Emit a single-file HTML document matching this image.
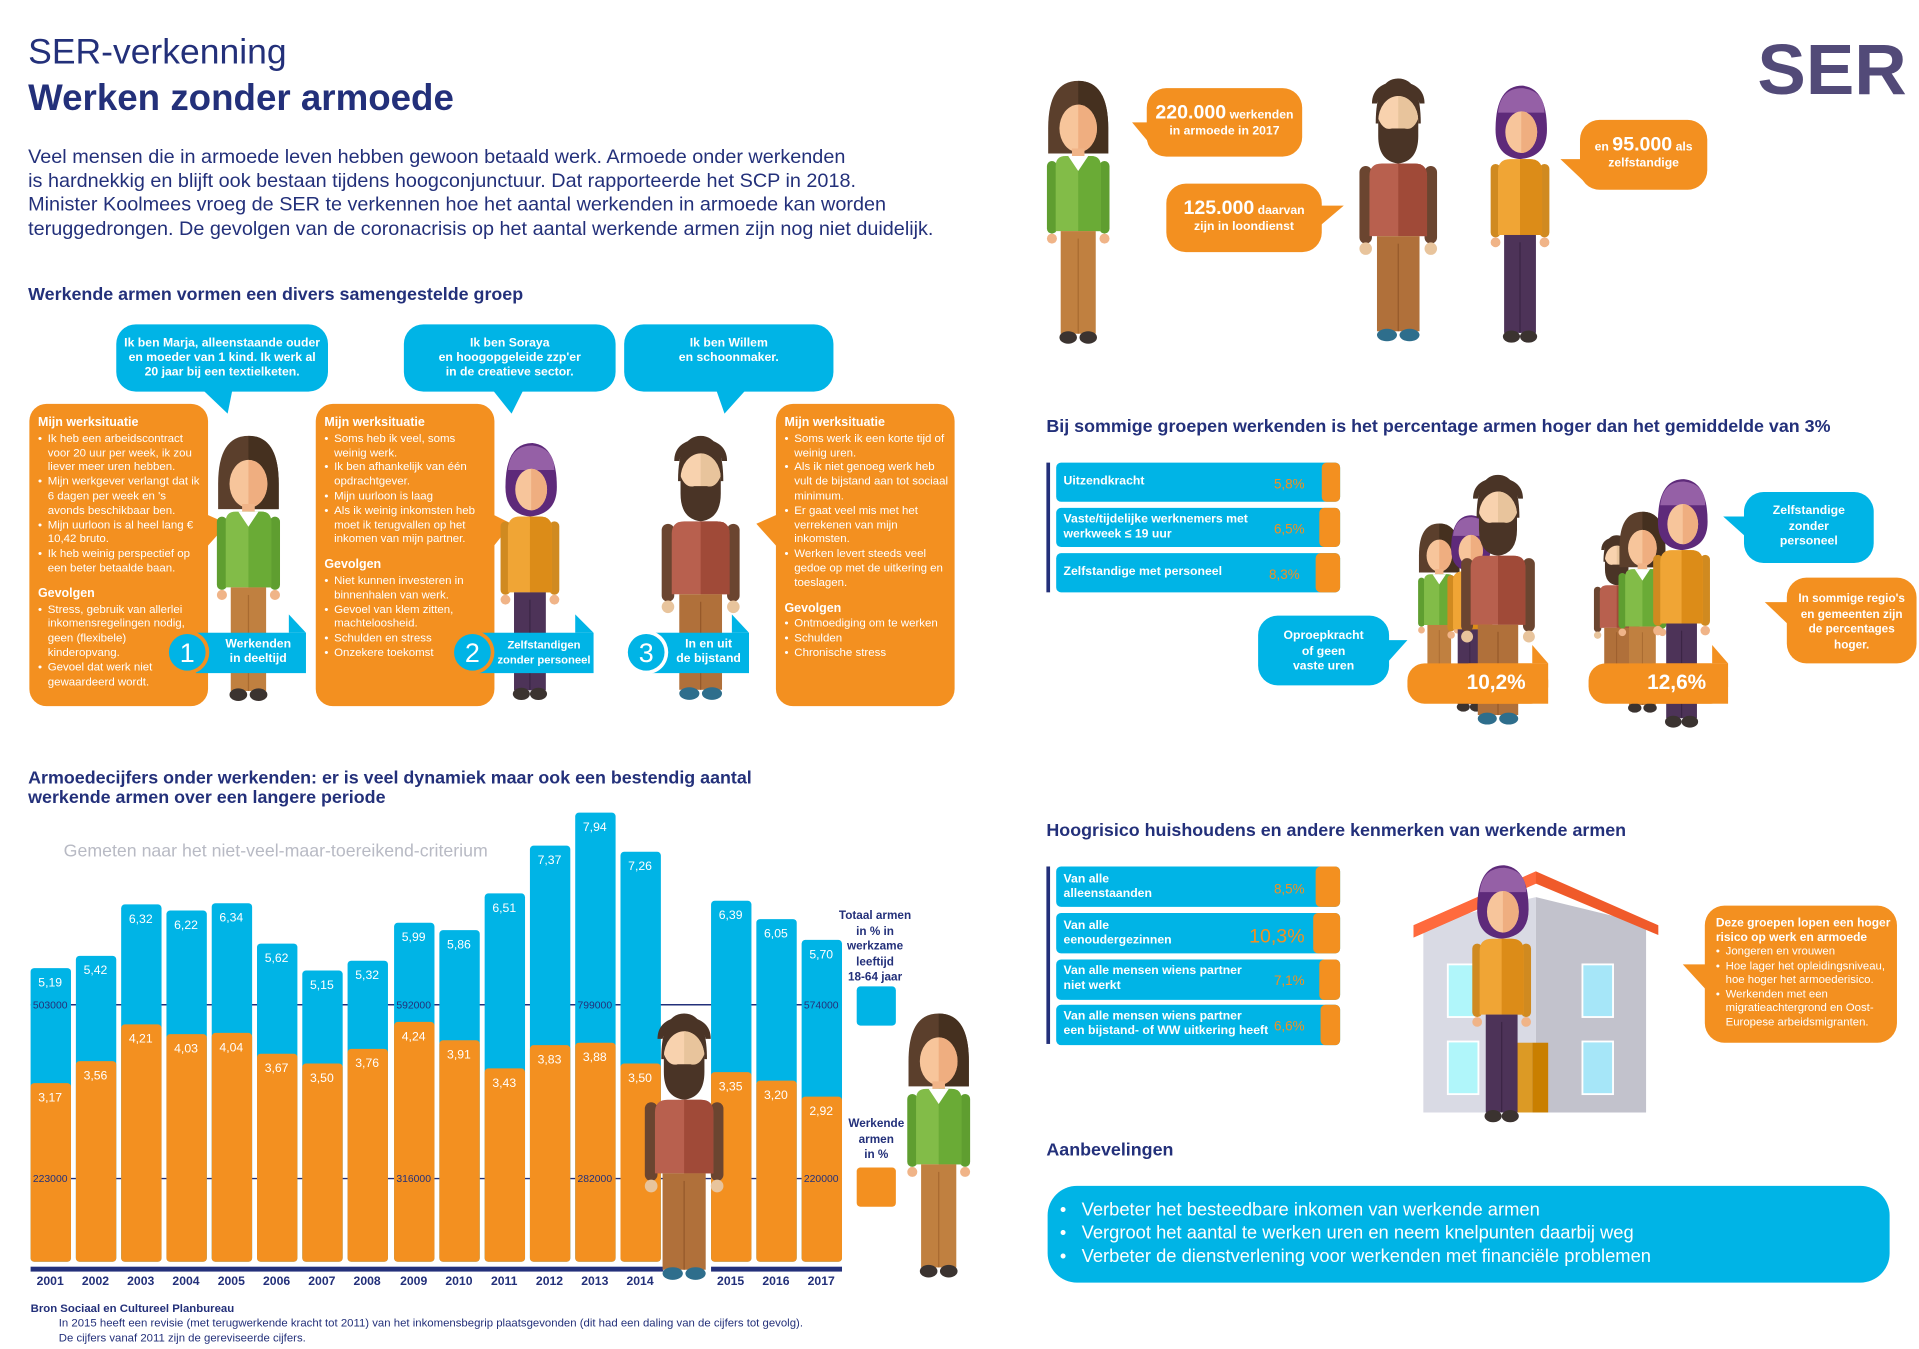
<!DOCTYPE html>
<html><head><meta charset="utf-8">
<style>
*{margin:0;padding:0;box-sizing:border-box}
html,body{width:1919px;height:1348px;overflow:hidden;background:#fff}
#s{position:absolute;left:0;top:0;width:1568px;height:1102px;transform:scale(1.22385);transform-origin:0 0;font-family:"Liberation Sans Narrow","Liberation Sans",sans-serif;color:#23307a}
.a{position:absolute}
.h{font-weight:bold;font-size:14.6px;color:#23307a;white-space:nowrap}
.ob{color:#fff;font-size:9.4px;line-height:11.8px}
.ob b{display:block;font-size:10.2px}
.ob ul{list-style:none}
.ob li{padding-left:8px;position:relative}
.ob li:before{content:"•";position:absolute;left:0}
.c{text-align:center;color:#fff;font-weight:bold}
svg{position:absolute;left:0;top:0}
</style></head><body><div id="s">
<svg width="1568" height="1102" viewBox="0 0 1568 1102">
<defs>
<symbol id="w" viewBox="0 0 60 220">
<path d="M6 42 Q6 4 30 4 Q54 4 54 42 L54 62 L6 62Z" fill="#5b3f2c"/>
<path d="M30 4 Q54 4 54 42 L54 62 L30 62Z" fill="#45301f"/>
<ellipse cx="30" cy="42" rx="15" ry="19" fill="#f7c59b"/>
<path d="M30 23 A15 19 0 0 1 30 61Z" fill="#efae80"/>
<rect x="25" y="58" width="10" height="8" fill="#f0b488"/>
<rect x="5" y="68" width="8" height="58" rx="4" fill="#5f9e30"/>
<rect x="47" y="68" width="8" height="58" rx="4" fill="#5f9e30"/>
<circle cx="9" cy="130" r="4" fill="#f0b488"/><circle cx="51" cy="130" r="4" fill="#f0b488"/>
<path d="M12 72 Q12 64 20 64 L40 64 Q48 64 48 72 L48 124 L12 124Z" fill="#82bc48"/>
<path d="M30 64 L40 64 Q48 64 48 72 L48 124 L30 124Z" fill="#6aab36"/>
<path d="M22 64 L30 76 L38 64Z" fill="#fff"/>
<rect x="16" y="124" width="28" height="82" fill="#c08040"/>
<rect x="29.5" y="130" width="1" height="76" fill="#a86a30"/>
<ellipse cx="22" cy="209" rx="7" ry="5" fill="#3b3330"/><ellipse cx="38" cy="209" rx="7" ry="5" fill="#3b3330"/>
</symbol>
<symbol id="m" viewBox="0 0 70 220">
<path d="M17 40 Q17 4 35 4 Q53 4 53 40Z" fill="#4a3426"/>
<ellipse cx="35" cy="38" rx="16" ry="20" fill="#f8d2ae"/>
<path d="M35 18 A16 20 0 0 1 35 58Z" fill="#e8c49c"/>
<path d="M19 36 L19 50 Q19 70 35 72 Q51 70 51 50 L51 36 Q47 46 40 44 L30 44 Q23 46 19 36Z" fill="#4a3426"/>
<path d="M14 24 Q14 8 35 6 Q56 8 56 24 L52 24 Q50 14 35 14 Q20 14 18 24Z" fill="#4a3426"/>
<rect x="4" y="74" width="10" height="62" rx="5" fill="#6b4530"/>
<rect x="56" y="74" width="10" height="62" rx="5" fill="#6b4530"/>
<circle cx="9" cy="140" r="5" fill="#e8c49c"/><circle cx="61" cy="140" r="5" fill="#e8c49c"/>
<path d="M12 82 Q12 72 22 72 L48 72 Q58 72 58 82 L58 130 L12 130Z" fill="#b8604e"/>
<path d="M35 72 L48 72 Q58 72 58 82 L58 130 L35 130Z" fill="#a04a38"/>
<rect x="18" y="130" width="34" height="76" fill="#b0703a"/>
<rect x="34.5" y="136" width="1" height="70" fill="#95592a"/>
<ellipse cx="26" cy="209" rx="8" ry="5" fill="#2e6e8c"/><ellipse cx="44" cy="209" rx="8" ry="5" fill="#2e6e8c"/>
</symbol>
<symbol id="hj" viewBox="0 0 60 220">
<path d="M10 40 Q10 4 32 4 Q52 6 52 40 Q52 62 30 64 Q10 62 10 40Z" fill="#5e2a7a"/>
<path d="M12 26 Q14 6 32 6 Q50 8 50 26Z" fill="#9560a6"/>
<ellipse cx="31" cy="42" rx="13" ry="17" fill="#f7c59b"/>
<path d="M31 25 A13 17 0 0 1 31 59Z" fill="#efae80"/>
<rect x="6" y="68" width="8" height="60" rx="4" fill="#d08a20"/>
<rect x="46" y="68" width="8" height="60" rx="4" fill="#d08a20"/>
<circle cx="10" cy="132" r="4" fill="#f0b488"/><circle cx="50" cy="132" r="4" fill="#f0b488"/>
<path d="M12 74 Q12 64 22 64 L38 64 Q48 64 48 74 L48 126 L12 126Z" fill="#f0a535"/>
<path d="M30 64 L38 64 Q48 64 48 74 L48 126 L30 126Z" fill="#dc8c18"/>
<rect x="17" y="126" width="26" height="80" fill="#4d3358"/>
<rect x="29.5" y="132" width="1" height="74" fill="#3b2545"/>
<ellipse cx="23" cy="209" rx="7" ry="5" fill="#3b3330"/><ellipse cx="37" cy="209" rx="7" ry="5" fill="#3b3330"/>
</symbol>
</defs>

<text x="1436" y="77" font-family="Liberation Sans,sans-serif" font-weight="bold" font-size="58" fill="#524a78" textLength="122" lengthAdjust="spacingAndGlyphs">SER</text>

<use href="#w" x="850" y="62" width="62" height="225"/>
<use href="#m" x="1105" y="60" width="75" height="225"/>
<use href="#hj" x="1212" y="66" width="60" height="220"/>
<rect x="937" y="72" width="127" height="56" rx="16" fill="#f39020"/>
<polygon points="925,100 940,100 940,118" fill="#f39020"/>
<rect x="953" y="150" width="127" height="56" rx="16" fill="#f39020"/>
<polygon points="1078,168 1098,168 1078,185" fill="#f39020"/>
<rect x="1291" y="98" width="104" height="57" rx="16" fill="#f39020"/>
<polygon points="1275,130 1294,130 1294,148" fill="#f39020"/>

<rect x="95" y="265" width="173" height="55" rx="16" fill="#00b4e6"/>
<polygon points="165,318 190,318 186,338" fill="#00b4e6"/>
<rect x="330" y="265" width="173" height="55" rx="16" fill="#00b4e6"/>
<polygon points="402,318 428,318 418,338" fill="#00b4e6"/>
<rect x="510" y="265" width="171" height="55" rx="16" fill="#00b4e6"/>
<polygon points="585,318 610,318 592,338" fill="#00b4e6"/>
<rect x="24" y="330" width="146" height="247" rx="14" fill="#f39020"/>
<polygon points="168,420 186,428 168,448" fill="#f39020"/>
<rect x="258" y="330" width="146" height="247" rx="14" fill="#f39020"/>
<polygon points="402,420 418,428 402,448" fill="#f39020"/>
<rect x="634" y="330" width="146" height="247" rx="14" fill="#f39020"/>
<polygon points="636,420 618,428 636,448" fill="#f39020"/>
<use href="#w" x="172" y="352" width="62" height="227"/>
<use href="#hj" x="403" y="358" width="60" height="220"/>
<use href="#m" x="535" y="352" width="75" height="226"/>
<rect x="160" y="517" width="90" height="33" fill="#00b4e6"/><polygon points="236,502 250,517 236,517" fill="#00b4e6"/>
<circle cx="153" cy="533" r="18" fill="#f39020"/><circle cx="153" cy="533" r="15" fill="#00b4e6"/>
<rect x="385" y="517" width="100" height="33" fill="#00b4e6"/><polygon points="470,502 485,517 470,517" fill="#00b4e6"/>
<circle cx="386" cy="533" r="18" fill="#f39020"/><circle cx="386" cy="533" r="15" fill="#00b4e6"/>
<rect x="525" y="517" width="87" height="33" fill="#00b4e6"/><polygon points="598,502 612,517 598,517" fill="#00b4e6"/>
<circle cx="528" cy="533" r="18" fill="#fff"/><circle cx="528" cy="533" r="15" fill="#00b4e6"/>
<g font-size="22" fill="#fff" text-anchor="middle"><text x="153" y="541">1</text><text x="386" y="541">2</text><text x="528" y="541">3</text></g>

<line x1="25" y1="821" x2="688" y2="821" stroke="#23307a" stroke-width="1.2"/>
<line x1="25" y1="963" x2="688" y2="963" stroke="#23307a" stroke-width="1.2"/>
<g fill="#00b4e6">
<rect x="25" y="791" width="33" height="240" rx="3"/><rect x="62" y="781" width="33" height="250" rx="3"/><rect x="99" y="739" width="33" height="292" rx="3"/><rect x="136" y="744" width="33" height="287" rx="3"/><rect x="173" y="738" width="33" height="293" rx="3"/><rect x="210" y="771" width="33" height="260" rx="3"/><rect x="247" y="793" width="33" height="238" rx="3"/><rect x="284" y="785" width="33" height="246" rx="3"/><rect x="322" y="754" width="33" height="277" rx="3"/><rect x="359" y="760" width="33" height="271" rx="3"/><rect x="396" y="730" width="33" height="301" rx="3"/><rect x="433" y="691" width="33" height="340" rx="3"/><rect x="470" y="664" width="33" height="367" rx="3"/><rect x="507" y="696" width="33" height="335" rx="3"/><rect x="581" y="736" width="33" height="295" rx="3"/><rect x="618" y="751" width="33" height="280" rx="3"/><rect x="655" y="768" width="33" height="263" rx="3"/>
</g>
<g fill="#f39020">
<rect x="25" y="885" width="33" height="146" rx="3"/><rect x="62" y="867" width="33" height="164" rx="3"/><rect x="99" y="837" width="33" height="194" rx="3"/><rect x="136" y="845" width="33" height="186" rx="3"/><rect x="173" y="844" width="33" height="187" rx="3"/><rect x="210" y="861" width="33" height="170" rx="3"/><rect x="247" y="869" width="33" height="162" rx="3"/><rect x="284" y="857" width="33" height="174" rx="3"/><rect x="322" y="835" width="33" height="196" rx="3"/><rect x="359" y="850" width="33" height="181" rx="3"/><rect x="396" y="873" width="33" height="158" rx="3"/><rect x="433" y="854" width="33" height="177" rx="3"/><rect x="470" y="852" width="33" height="179" rx="3"/><rect x="507" y="869" width="33" height="162" rx="3"/><rect x="581" y="876" width="33" height="155" rx="3"/><rect x="618" y="883" width="33" height="148" rx="3"/><rect x="655" y="896" width="33" height="135" rx="3"/>
</g>
<rect x="25" y="1035" width="517" height="4" fill="#23307a"/>
<rect x="581" y="1035" width="107" height="4" fill="#23307a"/>
<g font-size="10" fill="#fff" text-anchor="middle">
<text x="41" y="806">5,19</text><text x="78" y="796">5,42</text><text x="115" y="754">6,32</text><text x="152" y="759">6,22</text><text x="189" y="753">6,34</text><text x="226" y="786">5,62</text><text x="263" y="808">5,15</text><text x="300" y="800">5,32</text><text x="338" y="769">5,99</text><text x="375" y="775">5,86</text><text x="412" y="745">6,51</text><text x="449" y="706">7,37</text><text x="486" y="679">7,94</text><text x="523" y="711">7,26</text><text x="597" y="751">6,39</text><text x="634" y="766">6,05</text><text x="671" y="783">5,70</text>
<text x="41" y="900">3,17</text><text x="78" y="882">3,56</text><text x="115" y="852">4,21</text><text x="152" y="860">4,03</text><text x="189" y="859">4,04</text><text x="226" y="876">3,67</text><text x="263" y="884">3,50</text><text x="300" y="872">3,76</text><text x="338" y="850">4,24</text><text x="375" y="865">3,91</text><text x="412" y="888">3,43</text><text x="449" y="869">3,83</text><text x="486" y="867">3,88</text><text x="523" y="884">3,50</text><text x="597" y="891">3,35</text><text x="634" y="898">3,20</text><text x="671" y="911">2,92</text>
</g>
<g font-size="8.5" fill="#23307a" text-anchor="middle">
<text x="41" y="824">503000</text><text x="338" y="824">592000</text><text x="486" y="824">799000</text><text x="671" y="824">574000</text>
<text x="41" y="966">223000</text><text x="338" y="966">316000</text><text x="486" y="966">282000</text><text x="671" y="966">220000</text>
</g>
<g font-size="10" fill="#23307a" text-anchor="middle" font-weight="bold">
<text x="41" y="1050">2001</text><text x="78" y="1050">2002</text><text x="115" y="1050">2003</text><text x="152" y="1050">2004</text><text x="189" y="1050">2005</text><text x="226" y="1050">2006</text><text x="263" y="1050">2007</text><text x="300" y="1050">2008</text><text x="338" y="1050">2009</text><text x="375" y="1050">2010</text><text x="412" y="1050">2011</text><text x="449" y="1050">2012</text><text x="486" y="1050">2013</text><text x="523" y="1050">2014</text><text x="597" y="1050">2015</text><text x="634" y="1050">2016</text><text x="671" y="1050">2017</text>
</g>
<rect x="700" y="806" width="32" height="32" rx="3" fill="#00b4e6"/>
<rect x="700" y="954" width="32" height="32" rx="3" fill="#f39020"/>
<use href="#m" x="522" y="824" width="74" height="228"/>
<use href="#w" x="736" y="824" width="62" height="226"/>

<rect x="855" y="378" width="3" height="106" fill="#23307a"/>
<rect x="863" y="378" width="232" height="32" rx="4" fill="#00b4e6"/><rect x="1080" y="378" width="15" height="32" rx="4" fill="#f39020"/>
<rect x="863" y="415" width="232" height="32" rx="4" fill="#00b4e6"/><rect x="1078" y="415" width="17" height="32" rx="4" fill="#f39020"/>
<rect x="863" y="452" width="232" height="32" rx="4" fill="#00b4e6"/><rect x="1075" y="452" width="20" height="32" rx="4" fill="#f39020"/>
<g font-size="11" fill="#f39020" text-anchor="end"><text x="1066" y="399">5,8%</text><text x="1066" y="436">6,5%</text><text x="1062" y="473">8,3%</text></g>
<use href="#w" x="1155" y="425" width="42" height="152"/>
<use href="#hj" x="1178" y="418" width="46" height="168"/>
<use href="#m" x="1190" y="377" width="68" height="228"/>
<use href="#m" x="1300" y="425" width="42" height="152"/>
<use href="#w" x="1318" y="415" width="48" height="172"/>
<use href="#hj" x="1345" y="383" width="58" height="222"/>
<rect x="1150" y="542" width="115" height="33" rx="14" fill="#f39020"/><rect x="1200" y="542" width="65" height="33" fill="#f39020"/><polygon points="1252,527 1265,542 1252,542" fill="#f39020"/>
<rect x="1298" y="542" width="114" height="33" rx="14" fill="#f39020"/><rect x="1350" y="542" width="62" height="33" fill="#f39020"/><polygon points="1399,527 1412,542 1399,542" fill="#f39020"/>
<rect x="1028" y="503" width="107" height="57" rx="16" fill="#00b4e6"/><polygon points="1133,523 1150,523 1133,542" fill="#00b4e6"/>
<rect x="1425" y="402" width="106" height="58" rx="16" fill="#00b4e6"/><polygon points="1408,422 1428,422 1428,440" fill="#00b4e6"/>
<rect x="1460" y="472" width="106" height="70" rx="16" fill="#f39020"/><polygon points="1442,492 1463,492 1463,512" fill="#f39020"/>

<rect x="855" y="708" width="3" height="145" fill="#23307a"/>
<rect x="863" y="708" width="232" height="33" rx="4" fill="#00b4e6"/><rect x="1075" y="708" width="20" height="33" rx="4" fill="#f39020"/>
<rect x="863" y="746" width="232" height="33" rx="4" fill="#00b4e6"/><rect x="1073" y="746" width="22" height="33" rx="4" fill="#f39020"/>
<rect x="863" y="784" width="232" height="33" rx="4" fill="#00b4e6"/><rect x="1078" y="784" width="17" height="33" rx="4" fill="#f39020"/>
<rect x="863" y="821" width="232" height="33" rx="4" fill="#00b4e6"/><rect x="1079" y="821" width="16" height="33" rx="4" fill="#f39020"/>
<g fill="#f39020" text-anchor="end"><text x="1066" y="730" font-size="11">8,5%</text><text x="1066" y="770" font-size="16">10,3%</text><text x="1066" y="805" font-size="11">7,1%</text><text x="1066" y="842" font-size="11">6,6%</text></g>
<polygon points="1163,755 1255,733 1255,909 1163,909" fill="#d9dae4"/>
<polygon points="1255,733 1345,755 1345,909 1255,909" fill="#c2c2cc"/>
<polygon points="1155,756 1255,712 1355,756 1355,764 1255,722 1155,766" fill="#f05a2a"/>
<polygon points="1155,756 1255,712 1255,722 1155,766" fill="#ff6a3d"/>
<rect x="1183" y="788" width="25" height="43" fill="#b0f6fa" stroke="#fff" stroke-width="1.5"/>
<rect x="1293" y="788" width="25" height="43" fill="#a6e6f8" stroke="#fff" stroke-width="1.5"/>
<rect x="1183" y="851" width="25" height="43" fill="#b0f6fa" stroke="#fff" stroke-width="1.5"/>
<rect x="1293" y="851" width="25" height="43" fill="#a6e6f8" stroke="#fff" stroke-width="1.5"/>
<rect x="1238" y="852" width="14" height="57" fill="#dc9a25"/><rect x="1252" y="852" width="13" height="57" fill="#c97f00"/>
<use href="#hj" x="1197" y="703" width="60" height="220"/>
<rect x="1393" y="740" width="157" height="112" rx="16" fill="#f39020"/><polygon points="1375,788 1397,788 1397,812" fill="#f39020"/>
<rect x="856" y="969" width="688" height="79" rx="24" fill="#00b4e6"/>
</svg>

<div class="a" style="left:23px;top:27px;font-size:29px;white-space:nowrap">SER-verkenning</div>
<div class="a" style="left:23px;top:64px;font-size:30px;font-weight:bold;white-space:nowrap">Werken zonder armoede</div>
<div class="a" style="left:23px;top:119px;font-size:16.2px;line-height:19.5px;width:770px;white-space:nowrap">Veel mensen die in armoede leven hebben gewoon betaald werk. Armoede onder werkenden<br>is hardnekkig en blijft ook bestaan tijdens hoogconjunctuur. Dat rapporteerde het SCP in 2018.<br>Minister Koolmees vroeg de SER te verkennen hoe het aantal werkenden in armoede kan worden<br>teruggedrongen. De gevolgen van de coronacrisis op het aantal werkende armen zijn nog niet duidelijk.</div>
<div class="a h" style="left:23px;top:233px">Werkende armen vormen een divers samengestelde groep</div>

<div class="a c" style="left:95px;top:275px;width:173px;font-size:10px;line-height:12px">Ik ben Marja, alleenstaande ouder<br>en moeder van 1 kind. Ik werk al<br>20 jaar bij een textielketen.</div>
<div class="a c" style="left:330px;top:275px;width:173px;font-size:10px;line-height:12px">Ik ben Soraya<br>en hoogopgeleide zzp'er<br>in de creatieve sector.</div>
<div class="a c" style="left:510px;top:275px;width:171px;font-size:10px;line-height:12px">Ik ben Willem<br>en schoonmaker.</div>

<div class="a ob" style="left:31px;top:340px;width:133px"><b>Mijn werksituatie</b><ul><li>Ik heb een arbeidscontract voor 20 uur per week, ik zou liever meer uren hebben.</li><li>Mijn werkgever verlangt dat ik 6 dagen per week en 's avonds beschikbaar ben.</li><li>Mijn uurloon is al heel lang € 10,42 bruto.</li><li>Ik heb weinig perspectief op een beter betaalde baan.</li></ul><b style="margin-top:10px">Gevolgen</b><ul><li>Stress, gebruik van allerlei inkomensregelingen nodig, geen (flexibele) kinderopvang.</li><li>Gevoel dat werk niet gewaardeerd wordt.</li></ul></div>
<div class="a ob" style="left:265px;top:340px;width:135px"><b>Mijn werksituatie</b><ul><li>Soms heb ik veel, soms weinig werk.</li><li>Ik ben afhankelijk van één opdrachtgever.</li><li>Mijn uurloon is laag</li><li>Als ik weinig inkomsten heb moet ik terugvallen op het inkomen van mijn partner.</li></ul><b style="margin-top:10px">Gevolgen</b><ul><li>Niet kunnen investeren in binnenhalen van werk.</li><li>Gevoel van klem zitten, machteloosheid.</li><li>Schulden en stress</li><li>Onzekere toekomst</li></ul></div>
<div class="a ob" style="left:641px;top:340px;width:136px"><b>Mijn werksituatie</b><ul><li>Soms werk ik een korte tijd of weinig uren.</li><li>Als ik niet genoeg werk heb vult de bijstand aan tot sociaal minimum.</li><li>Er gaat veel mis met het verrekenen van mijn inkomsten.</li><li>Werken levert steeds veel gedoe op met de uitkering en toeslagen.</li></ul><b style="margin-top:10px">Gevolgen</b><ul><li>Ontmoediging om te werken</li><li>Schulden</li><li>Chronische stress</li></ul></div>
<div class="a c" style="left:172px;top:521px;width:78px;font-size:10px;line-height:12px">Werkenden<br>in deeltijd</div>
<div class="a c" style="left:404px;top:521px;width:81px;font-size:9.2px;line-height:12px">Zelfstandigen<br>zonder personeel</div>
<div class="a c" style="left:546px;top:521px;width:66px;font-size:10px;line-height:12px">In en uit<br>de bijstand</div>

<div class="a h" style="left:23px;top:628px;line-height:16px">Armoedecijfers onder werkenden: er is veel dynamiek maar ook een bestendig aantal<br>werkende armen over een langere periode</div>
<div class="a" style="left:52px;top:688px;font-size:14.5px;color:#b8bac4;white-space:nowrap">Gemeten naar het niet-veel-maar-toereikend-criterium</div>
<div class="a" style="left:680px;top:743px;width:70px;text-align:center;font-size:9.6px;line-height:12.5px;font-weight:bold">Totaal armen<br>in % in<br>werkzame<br>leeftijd<br>18-64 jaar</div>
<div class="a" style="left:686px;top:913px;width:60px;text-align:center;font-size:9.6px;line-height:12.5px;font-weight:bold">Werkende<br>armen<br>in %</div>
<div class="a" style="left:25px;top:1063px;font-size:9.3px;line-height:12px;white-space:nowrap"><b>Bron Sociaal en Cultureel Planbureau</b><br><span style="padding-left:23px">In 2015 heeft een revisie (met terugwerkende kracht tot 2011) van het inkomensbegrip plaatsgevonden (dit had een daling van de cijfers tot gevolg).</span><br><span style="padding-left:23px">De cijfers vanaf 2011 zijn de gereviseerde cijfers.</span></div>

<div class="a c" style="left:937px;top:86px;width:127px;font-size:10px;line-height:13px"><span style="font-size:16px">220.000</span> werkenden<br>in armoede in 2017</div>
<div class="a c" style="left:953px;top:164px;width:127px;font-size:10px;line-height:13px"><span style="font-size:16px">125.000</span> daarvan<br>zijn in loondienst</div>
<div class="a c" style="left:1291px;top:112px;width:104px;font-size:10px;line-height:13px">en <span style="font-size:16px">95.000</span> als<br>zelfstandige</div>

<div class="a h" style="left:855px;top:341px">Bij sommige groepen werkenden is het percentage armen hoger dan het gemiddelde van 3%</div>
<div class="a" style="left:869px;top:388px;font-size:10px;color:#fff;font-weight:bold">Uitzendkracht</div>
<div class="a" style="left:869px;top:419px;font-size:10px;line-height:12px;color:#fff;font-weight:bold">Vaste/tijdelijke werknemers met<br>werkweek ≤ 19 uur</div>
<div class="a" style="left:869px;top:462px;font-size:10px;color:#fff;font-weight:bold">Zelfstandige met personeel</div>
<div class="a c" style="left:1150px;top:548px;width:115px;font-size:17px;padding-left:30px">10,2%</div>
<div class="a c" style="left:1298px;top:548px;width:114px;font-size:17px;padding-left:30px">12,6%</div>
<div class="a c" style="left:1028px;top:514px;width:107px;font-size:10px;line-height:12.5px">Oproepkracht<br>of geen<br>vaste uren</div>
<div class="a c" style="left:1425px;top:412px;width:106px;font-size:10px;line-height:12.5px">Zelfstandige<br>zonder<br>personeel</div>
<div class="a c" style="left:1460px;top:484px;width:106px;font-size:9.6px;line-height:12.5px">In sommige regio's<br>en gemeenten zijn<br>de percentages<br>hoger.</div>

<div class="a h" style="left:855px;top:671px">Hoogrisico huishoudens en andere kenmerken van werkende armen</div>
<div class="a" style="left:869px;top:713px;font-size:10px;line-height:12px;color:#fff;font-weight:bold">Van alle<br>alleenstaanden</div>
<div class="a" style="left:869px;top:751px;font-size:10px;line-height:12px;color:#fff;font-weight:bold">Van alle<br>eenoudergezinnen</div>
<div class="a" style="left:869px;top:788px;font-size:10px;line-height:12px;color:#fff;font-weight:bold">Van alle mensen wiens partner<br>niet werkt</div>
<div class="a" style="left:869px;top:825px;font-size:10px;line-height:12px;color:#fff;font-weight:bold">Van alle mensen wiens partner<br>een bijstand- of WW uitkering heeft</div>
<div class="a ob" style="left:1402px;top:749px;width:145px;font-size:9.3px;line-height:11.5px"><b style="font-size:9.8px">Deze groepen lopen een hoger risico op werk en armoede</b><ul><li>Jongeren en vrouwen</li><li>Hoe lager het opleidingsniveau, hoe hoger het armoederisico.</li><li>Werkenden met een migratieachtergrond en Oost-Europese arbeidsmigranten.</li></ul></div>
<div class="a h" style="left:855px;top:932px">Aanbevelingen</div>
<div class="a" style="left:866px;top:979px;font-size:15px;line-height:19px;color:#fff;white-space:nowrap">•&nbsp;&nbsp;&nbsp;Verbeter het besteedbare inkomen van werkende armen<br>•&nbsp;&nbsp;&nbsp;Vergroot het aantal te werken uren en neem knelpunten daarbij weg<br>•&nbsp;&nbsp;&nbsp;Verbeter de dienstverlening voor werkenden met financiële problemen</div>
</div></body></html>
